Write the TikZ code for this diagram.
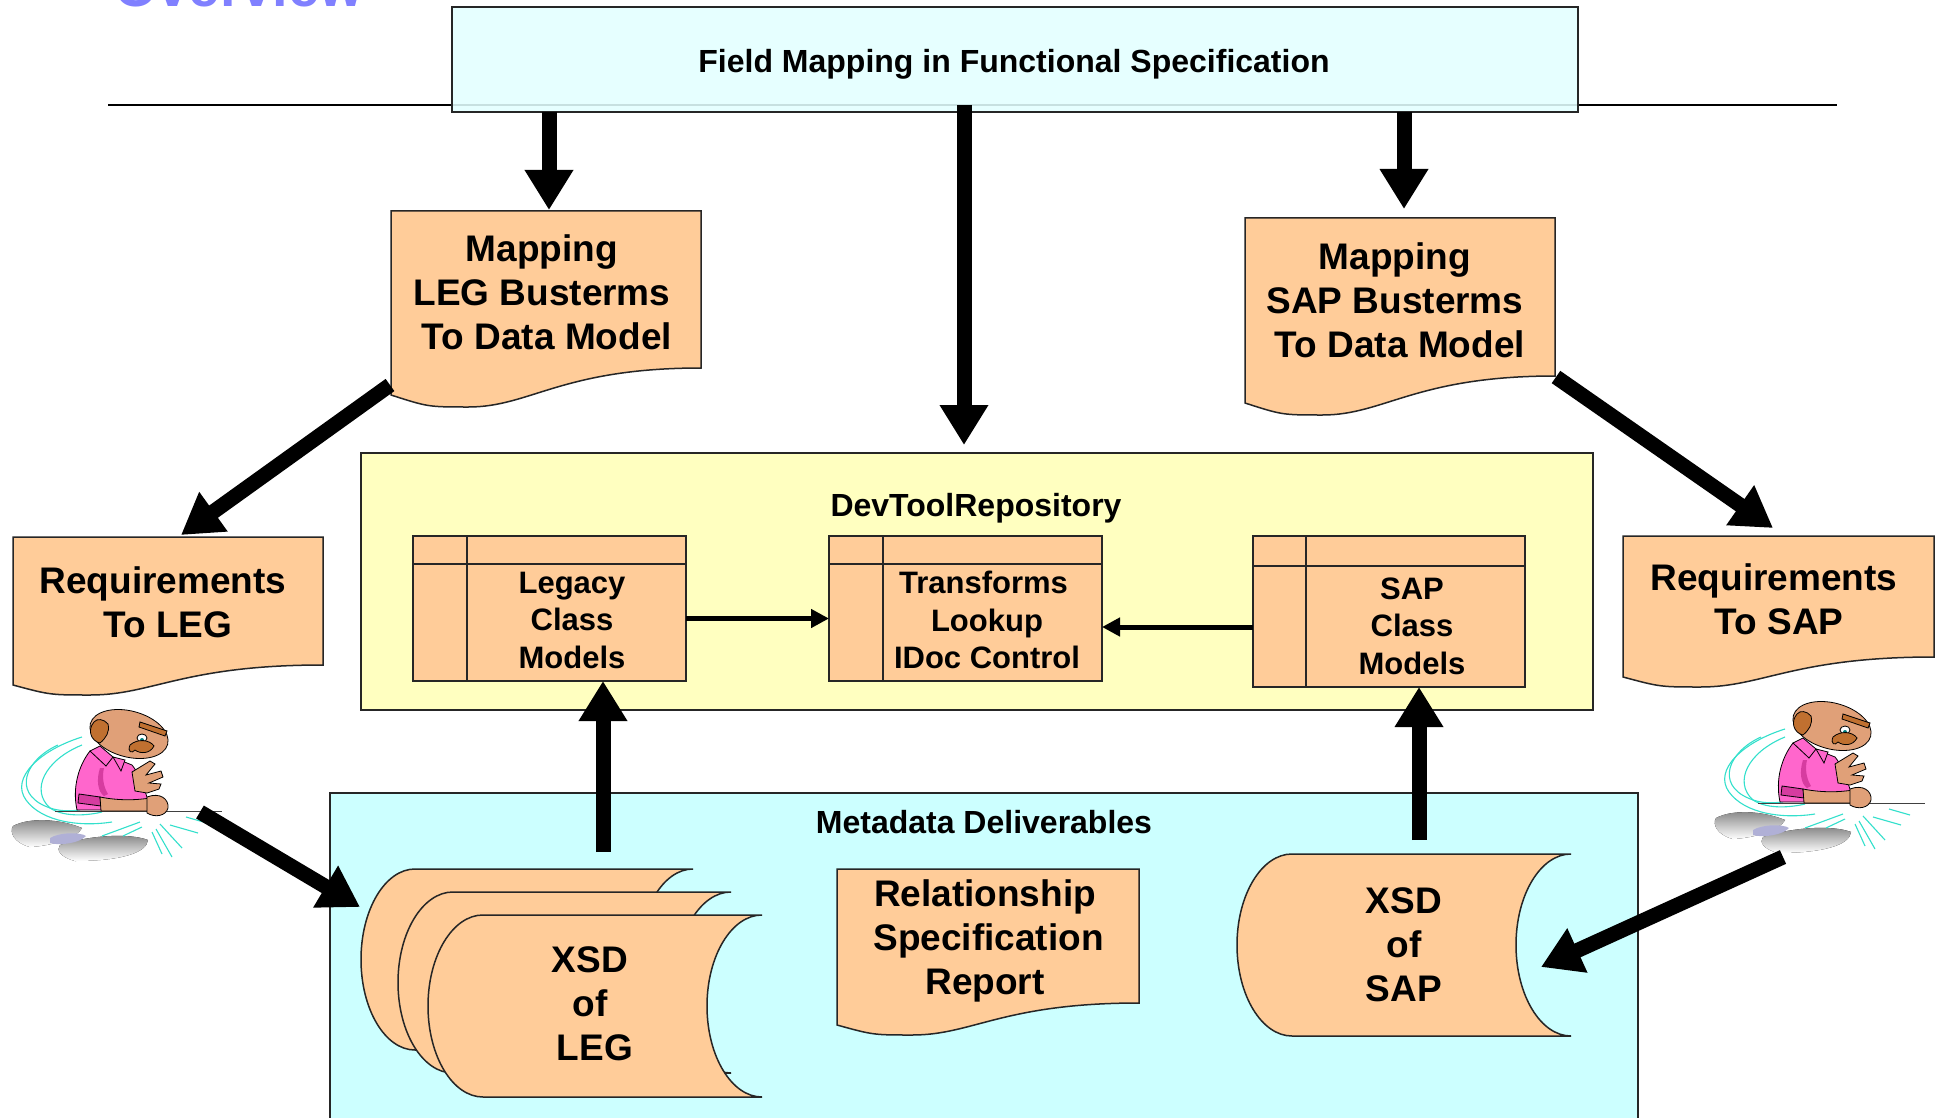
\documentclass[tikz,border=0pt]{standalone}
\usepackage{fontspec}
\setmainfont{Liberation Sans}
\usetikzlibrary{arrows.meta}

\definecolor{peach}{RGB}{255,204,153}
\definecolor{topfill}{RGB}{227,255,255}
\definecolor{repofill}{RGB}{255,255,192}
\definecolor{metafill}{RGB}{204,255,255}
\definecolor{headblue}{RGB}{128,128,255}
\definecolor{skin}{RGB}{224,160,120}
\definecolor{shirt}{RGB}{255,102,204}
\definecolor{shirtdark}{RGB}{214,60,160}
\definecolor{hair}{RGB}{192,112,48}
\definecolor{swoosh}{RGB}{51,224,204}
\definecolor{shade}{RGB}{218,218,252}
\definecolor{shadedark}{RGB}{176,176,214}

\tikzset{
  outline/.style={draw=black!85, line width=1.5pt},
  docbox/.style={outline, fill=peach},
  panel/.style={outline, inner sep=0pt, outer sep=0pt},
  classnode/.style={outline, fill=peach, inner sep=0pt, outer sep=0pt},
  bigtext/.style={font=\fontsize{37}{44}\selectfont\bfseries, align=center, inner sep=0pt},
  midtext/.style={font=\fontsize{31}{37.5}\selectfont\bfseries, align=center, inner sep=0pt},
  titletext/.style={font=\fontsize{32}{38}\selectfont\bfseries, inner sep=0pt, anchor=base},
  bigarrow/.style={line width=15pt, -{Triangle[length=40pt,width=46pt]}},
  smallarrow/.style={line width=5pt, -{Triangle[length=18pt,width=18pt]}},
  art/.style={draw=black, line width=0.8pt},
  motion/.style={draw=swoosh, line width=1.1pt},
}

% document shape with a wavy lower edge: x1 ytop x2 yright yleft ylow
\newcommand\docshape[6]{%
  \path[docbox] (#1,#2) -- (#3,#2) -- (#3,#4)
    .. controls ({#1+0.55*(#3-#1)},#4) and ({#1+0.45*(#3-#1)},#6) .. ({#1+0.25*(#3-#1)},#6)
    .. controls ({#1+0.12*(#3-#1)},#6) .. (#1,#5) -- cycle;}

% stored-data shape: xleft ytop xright ybottom bulge
\newcommand\storedshape[5]{%
  \path[docbox] ({#1+#5},#2) -- (#3,#2)
    .. controls ({#3-0.552*#5},#2) and ({#3-#5},{#2+0.224*(#4-#2)}) .. ({#3-#5},{(#2+#4)/2})
    .. controls ({#3-#5},{#2+0.776*(#4-#2)}) and ({#3-0.552*#5},#4) .. (#3,#4)
    -- ({#1+#5},#4)
    .. controls ({#1+0.448*#5},#4) and (#1,{#2+0.776*(#4-#2)}) .. (#1,{(#2+#4)/2})
    .. controls (#1,{#2+0.224*(#4-#2)}) and ({#1+0.448*#5},#2) .. ({#1+#5},#2) -- cycle;}

% man thumping the table
\newcommand\thumper[2]{%
\begin{scope}[shift={(#1,#2)}]
  % shadow on the floor
  \fill[shade] (13,826) .. controls (30,817) and (60,819) .. (82,828)
    .. controls (76,839) and (50,846) .. (30,847) .. controls (14,843) and (9,832) .. (13,826) -- cycle;
  \fill[shade] (60,845) .. controls (90,835) and (130,833) .. (148,840)
    .. controls (147,853) and (120,861) .. (75,861) .. controls (60,857) and (56,850) .. (60,845) -- cycle;
  \fill[shadedark] (50,838) .. controls (60,832) and (80,832) .. (86,836)
    .. controls (80,843) and (60,846) .. (50,843) -- cycle;
  % motion lines
  \draw[motion] (82,737) .. controls (40,750) and (10,778) .. (26,800) .. controls (42,822) and (80,827) .. (112,822);
  \draw[motion] (58,745) .. controls (25,760) and (13,792) .. (45,806) .. controls (58,812) and (70,811) .. (80,810);
  \draw[motion] (82,745) .. controls (45,760) and (30,790) .. (50,808) .. controls (65,818) and (90,815) .. (102,812);
  \draw[motion] (102,836) -- (140,822);
  \draw[motion] (123,836) -- (142,827);
  \draw[motion] (152,832) -- (162,854);
  \draw[motion] (156,829) -- (172,857);
  \draw[motion] (160,824) -- (182,848);
  \draw[motion] (170,825) -- (198,833);
  \draw[motion] (186,817) -- (207,823);
  % table edge
  \draw[black!75, line width=1pt] (55,811) -- (222,811);
  % shirt
  \path[art, fill=shirt] (90,751) .. controls (79,765) and (72,787) .. (77,810) -- (148,810) -- (148,800)
    .. controls (143,785) and (138,772) .. (132,765) -- (112,757) -- cycle;
  \path[fill=shirtdark] (100,768) .. controls (96,780) and (98,792) .. (104,796) -- (108,794)
    .. controls (103,786) and (102,776) .. (104,768) -- cycle;
  \path[art, fill=shirt] (90,751) -- (100,746) -- (113,757) -- (106,766) -- cycle;
  \path[art, fill=shirt] (113,757) -- (125,760) -- (121,771) -- cycle;
  % sleeve band and forearm
  \path[art, fill=shirtdark] (79,794) -- (100,797) -- (101,806) -- (78,803) -- cycle;
  \path[art, fill=skin] (100,797) .. controls (120,801) and (138,800) .. (150,798) -- (152,811) -- (101,811) -- cycle;
  % fist
  \path[art, fill=skin] (147,797) .. controls (160,792) and (169,799) .. (168,808)
    .. controls (166,816) and (155,818) .. (147,813) -- cycle;
  % raised hand
  \path[art, fill=skin] (132,772) -- (150,761) -- (155,764) -- (146,775) -- (161,771) -- (163,777)
    -- (149,783) -- (161,784) -- (159,789) -- (147,793) -- (135,791) -- cycle;
  % head
  \path[art, fill=skin, rotate around={-15:(129,734)}] (129,734) ellipse [x radius=40pt, y radius=23pt];
  \path[art, fill=hair] (94,722) .. controls (87,730) and (91,741) .. (100,743)
    .. controls (106,738) and (110,732) .. (108,724) .. controls (104,719) and (97,718) .. (94,722) -- cycle;
  \path[art, fill=hair] (140,722) -- (167,731) -- (165,736) -- (139,727) -- cycle;
  \path[art, fill=white] (142,738) ellipse [x radius=5pt, y radius=4pt];
  \fill[teal] (142,740) circle [radius=2pt];
  \path[art, fill=hair] (130,745) .. controls (138,738) and (150,740) .. (154,746)
    .. controls (150,754) and (140,754) .. (135,750) .. controls (132,754) and (127,752) .. (130,745) -- cycle;
\end{scope}}

\begin{document}
\begin{tikzpicture}[x=1pt, y=-1pt]
\useasboundingbox (0,0) rectangle (1936,1118);
\clip (0,0) rectangle (1936,1118);
\fill[white] (0,0) rectangle (1936,1118);

% page heading, cut by the upper edge
\node[font=\fontsize{56}{60}\selectfont\bfseries, text=headblue, anchor=base west, inner sep=0pt]
  (heading) at (114,7) {Overview};

% rule under the heading
\coordinate (rule-l) at (108,105);
\coordinate (rule-r) at (1837,105);
\draw[line width=2pt] (rule-l) -- (rule-r);

% specification banner
\node[panel, fill=topfill, fill opacity=0.88, draw opacity=1, minimum width=1126pt, minimum height=105pt]
  (top) at (1015,59.5) {};
\node[titletext] (toptitle) at (1014,72.5) {Field Mapping in Functional Specification};

% repository and deliverables panels
\node[panel, fill=repofill, minimum width=1232pt, minimum height=257pt] (repo) at (977,581.5) {};
\node[titletext] (repotitle) at (976,516) {DevToolRepository};
\node[panel, fill=metafill, minimum width=1308pt, minimum height=347pt] (meta) at (984,966.5) {};
\node[titletext] (metatitle) at (984,833) {Metadata Deliverables};

% class models
\node[classnode, minimum width=273pt, minimum height=145pt] (legacy) at (549.5,608.5) {};
\draw[outline] ([xshift=54pt]legacy.north west) -- ([xshift=54pt]legacy.south west);
\draw[outline] ([yshift=-28pt]legacy.north west) -- ([yshift=-28pt]legacy.north east);
\node[midtext] (legacy-t) at (572,620) {Legacy\\Class\\Models};

\node[classnode, minimum width=273pt, minimum height=145pt] (trans) at (965.5,608.5) {};
\draw[outline] ([xshift=54pt]trans.north west) -- ([xshift=54pt]trans.south west);
\draw[outline] ([yshift=-28pt]trans.north west) -- ([yshift=-28pt]trans.north east);
\node[midtext] (trans-t) at (987,620) {Transforms\hspace*{7pt}\\Lookup\\IDoc Control};

\node[classnode, minimum width=272pt, minimum height=151pt] (sapcls) at (1389,611.5) {};
\draw[outline] ([xshift=53pt]sapcls.north west) -- ([xshift=53pt]sapcls.south west);
\draw[outline] ([yshift=-30pt]sapcls.north west) -- ([yshift=-30pt]sapcls.north east);
\node[midtext] (sapcls-t) at (1412,626) {SAP\\Class\\Models};

\draw[smallarrow] ([yshift=-10pt]legacy.east) -- ([yshift=-10pt]legacy.east -| trans.west);
\draw[smallarrow] ([yshift=-15.5pt]sapcls.west) -- ([yshift=-15.5pt]sapcls.west -| trans.east);

% mapping documents
\docshape{391}{211}{701}{368}{395}{407}
\node[bigtext] (mapleg) at (542,292) {Mapping\\LEG Busterms\\\hspace*{10pt}To Data Model};
\docshape{1245}{218}{1555}{376}{403}{415}
\node[bigtext] (mapsap) at (1395,300) {Mapping\\SAP Busterms\\\hspace*{10pt}To Data Model};

% requirement documents
\docshape{13}{537}{323}{665}{685}{695}
\node[bigtext] (reqleg) at (163,602) {Requirements\\\hspace*{10pt}To LEG};
\docshape{1623}{536}{1934}{657}{677}{687}
\node[bigtext] (reqsap) at (1774,599) {Requirements\\\hspace*{10pt}To SAP};

% report
\docshape{837}{869}{1139}{1003}{1025}{1035}
\node[bigtext] (report) at (985,941) {Relationship\\\hspace*{7pt}Specification\\Report};

% XSD stacks
\storedshape{361}{869}{693}{1050}{54}
\storedshape{398}{892}{731}{1073}{55}
\storedshape{428}{915}{762}{1097}{55}
\node[bigtext] (xsdleg) at (590,1004) {XSD\\of\\\hspace*{10pt}LEG};
\storedshape{1237}{854}{1571}{1036}{55}
\node[bigtext] (xsdsap) at (1404,945) {XSD\\of\hspace*{9pt}\\SAP};

% people
\thumper{0}{0}
\thumper{1703}{-8}

% flow arrows
\coordinate (mapleg-n) at (549,210);
\coordinate (mapsap-n) at (1404,209);
\coordinate (rule-c) at (964,105);
\coordinate (repo-n) at (964,445);
\draw[bigarrow] (top.south -| mapleg-n) -- (mapleg-n);
\draw[bigarrow] (top.south -| mapsap-n) -- (mapsap-n);
\draw[bigarrow] (rule-c) -- (repo-n);

\coordinate (mapleg-sw) at (390,385);
\coordinate (reqleg-n) at (181,535);
\draw[bigarrow] (mapleg-sw) -- (reqleg-n);
\coordinate (mapsap-se) at (1556,377);
\coordinate (reqsap-n) at (1773,528);
\draw[bigarrow] (mapsap-se) -- (reqsap-n);

\coordinate (personL) at (200,812);
\coordinate (xsdleg-w) at (360,907);
\draw[bigarrow] (personL) -- (xsdleg-w);
\coordinate (personR) at (1783,857);
\coordinate (xsdsap-e) at (1541,967);
\draw[bigarrow] (personR) -- (xsdsap-e);

\coordinate (xsdleg-n) at (603,852);
\draw[bigarrow] (xsdleg-n) -- (xsdleg-n |- legacy.south);
\coordinate (xsdsap-n) at (1419,840);
\draw[bigarrow] (xsdsap-n) -- (xsdsap-n |- sapcls.south);
\end{tikzpicture}
\end{document}
